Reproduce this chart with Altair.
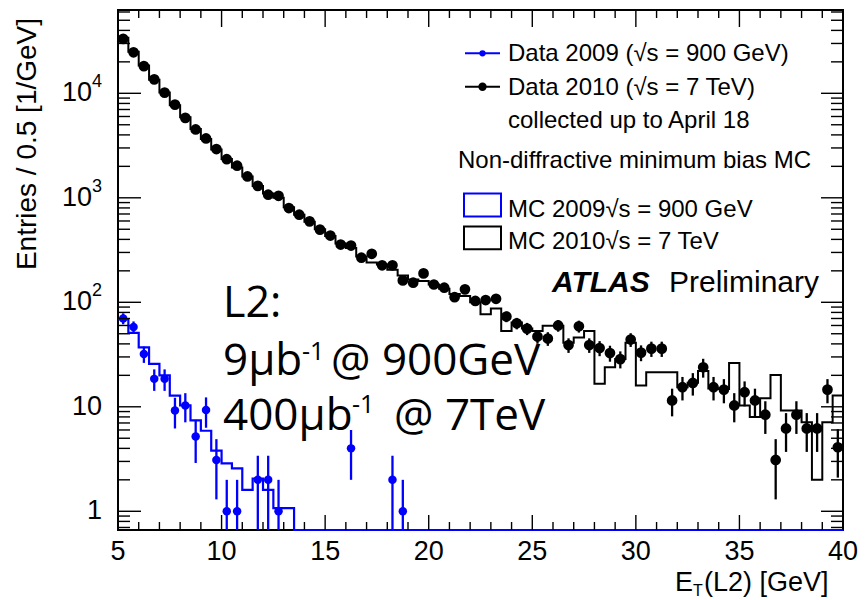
import altair as alt
import pandas as pd

# ---------------- binning ----------------
X_MIN, X_MAX, BIN_W, N_BINS = 5.0, 40.0, 0.5, 70
bin_centers = [X_MIN + BIN_W * (i + 0.5) for i in range(N_BINS)]
bin_edges = [X_MIN + BIN_W * i for i in range(N_BINS + 1)]

Y_LO, Y_HI = 0.662, 62700.0

# ---------------- Data 2010 (7 TeV), one value per bin 5.25 ... 39.75 ----------------
data2010 = [
    33200, 24700, 18200, 13600, 10150, 7800, 5820, 4510, 3700, 2930,
    2340, 2030, 1600, 1300, 1070, 1045, 798, 689, 595, 496,
    435, 357, 349, 267, 291, 226, 226, 162, 154, 189,
    148, 138, 112, 133, 103, 105, 108, 73, 63, 56,
    47, 45, 60, 39, 59, 39, 36.5, 32.7, 28.6, 44,
    33, 36, 36, 11.5, 15.4, 16.9, 23.9, 15.4, 14.6, 10.3,
    13.8, 11.5, 8.4, 3.1, 6.2, 8.4, 6.2, 6.2, 14.6, 4.1,
]
data2010_err = [
    182, 157, 135, 117, 101, 88, 76, 67, 61, 54,
    48, 45, 40, 36, 33, 32, 28, 26, 24, 22,
    21, 19, 19, 16, 17, 15, 15, 13, 12, 14,
    12, 12, 11, 12, 10, 10, 10, 8.5, 7.9, 7.5,
    6.9, 6.7, 7.7, 6.2, 7.7, 6.2, 6.0, 5.7, 5.3, 6.6,
    5.7, 6.0, 6.0, 3.4, 3.9, 4.1, 4.9, 3.9, 3.8, 3.2,
    3.7, 3.4, 2.9, 1.8, 2.5, 2.9, 2.5, 2.5, 3.8, 2.0,
]
# ---------------- MC 2010 (7 TeV) ----------------
mc2010 = [
    34000, 25000, 18500, 13500, 10200, 7700, 5900, 4550, 3650, 2900,
    2350, 1950, 1600, 1300, 1100, 1000, 810, 690, 590, 500,
    430, 365, 330, 275, 240, 230, 205, 180, 165, 160,
    148, 135, 120, 115, 100, 77, 87, 53, 64, 56,
    53, 59.5, 59.5, 41, 46, 53, 16.6, 23.9, 28.7, 41,
    16, 21.4, 21.4, 21.4, 15.4, 17, 22, 15, 14.8, 26.2,
    10.3, 8.0, 12.1, 20.2, 9.2, 9.2, 7.1, 2.0, 7.1, 12.8,
]
# ---------------- Data 2009 (900 GeV), non-empty bins ----------------
data2009_x = [5.25, 5.75, 6.25, 6.75, 7.25, 7.75, 8.25, 8.75, 9.25, 9.75,
              10.25, 10.75, 11.75, 12.25, 12.75, 16.25, 18.25, 18.75]
data2009 = [70, 58, 32, 18.5, 18.5, 9.2, 10.3, 5.2, 9.3, 3.1,
            1, 1, 2, 2, 1, 4, 2, 1]
data2009_err = [8.4, 7.6, 5.7, 4.3, 4.3, 3.0, 3.2, 2.3, 3.0, 1.8,
                1, 1, 1.4, 1.4, 1, 2, 1.4, 1]
# ---------------- MC 2009 (900 GeV) ----------------
mc2009 = [
    69, 51, 37, 25.7, 20, 12.8, 10.3, 7.4, 5.9, 3.8,
    2.87, 2.57, 1.6, 2.06, 1.6, 1.07, 1.07, 0, 0, 0,
    0, 0, 0, 0, 0, 0, 0, 0, 0, 0,
    0, 0, 0, 0, 0, 0, 0, 0, 0, 0,
    0, 0, 0, 0, 0, 0, 0, 0, 0, 0,
    0, 0, 0, 0, 0, 0, 0, 0, 0, 0,
    0, 0, 0, 0, 0, 0, 0, 0, 0, 0,
]

x_major = [5, 10, 15, 20, 25, 30, 35, 40]
x_minor = [v for v in range(5, 41) if v % 5 != 0]
y_major = [1, 10, 100, 1000, 10000]
y_minor = [k * 10 ** n for n in range(-1, 5) for k in range(2, 10)
           if Y_LO <= k * 10 ** n <= Y_HI]

BLUE = "#0000ff"
SANS = "Liberation Sans"
W, H = 725, 520

xs = alt.Scale(domain=[X_MIN, X_MAX], nice=False, zero=False)
ys = alt.Scale(type="log", domain=[Y_LO, Y_HI], nice=False)


def X(f):
    return alt.X(f, type="quantitative", scale=xs, axis=None)


def Y(f):
    return alt.Y(f, type="quantitative", scale=ys, axis=None)


DUMMY = pd.DataFrame({"_": [0]})


def txt(s, x, y, size, font=SANS, weight="normal", style="normal",
        align="left", baseline="alphabetic", color="black", angle=0):
    return alt.Chart(DUMMY).mark_text(
        align=align, baseline=baseline, font=font, fontSize=size,
        fontWeight=weight, fontStyle=style, color=color, angle=angle
    ).encode(x=alt.value(x), y=alt.value(y), text=alt.value(s))


layers = []

# MC histograms (step lines)
mc10_df = pd.DataFrame({"x": bin_edges, "y": mc2010 + [mc2010[-1]]})
mc09_vals = [max(v, Y_LO) for v in mc2009]
mc09_df = pd.DataFrame({"x": bin_edges, "y": mc09_vals + [mc09_vals[-1]]})
layers.append(alt.Chart(mc10_df).mark_line(interpolate="step-after", color="black",
                                           strokeWidth=2, clip=True)
              .encode(x=X("x"), y=Y("y")))
layers.append(alt.Chart(mc09_df).mark_line(interpolate="step-after", color=BLUE,
                                           strokeWidth=2.2, clip=False)
              .encode(x=X("x"), y=Y("y")))

# Data 2010
d10 = pd.DataFrame({
    "x": bin_centers, "y": data2010,
    "lo": [max(v - e, Y_LO) for v, e in zip(data2010, data2010_err)],
    "hi": [v + e for v, e in zip(data2010, data2010_err)],
})
layers.append(alt.Chart(d10).mark_rule(color="black", strokeWidth=2.3)
              .encode(x=X("x"), y=Y("lo"), y2="hi"))
layers.append(alt.Chart(d10).mark_circle(color="black", size=115, opacity=1)
              .encode(x=X("x"), y=Y("y")))

# Data 2009
d09 = pd.DataFrame({
    "x": data2009_x, "y": data2009,
    "lo": [max(v - e, Y_LO) for v, e in zip(data2009, data2009_err)],
    "hi": [v + e for v, e in zip(data2009, data2009_err)],
})
layers.append(alt.Chart(d09).mark_rule(color=BLUE, strokeWidth=2.3)
              .encode(x=X("x"), y=Y("lo"), y2="hi"))
layers.append(alt.Chart(d09).mark_circle(color=BLUE, size=72, opacity=1)
              .encode(x=X("x"), y=Y("y")))

# ---------------- ticks (inward, ROOT style) ----------------
xmaj_df = pd.DataFrame({"v": x_major, "lab": [str(v) for v in x_major]})
xmin_df = pd.DataFrame({"v": x_minor})
ymaj_df = pd.DataFrame({"v": y_major})
ymin_df = pd.DataFrame({"v": y_minor})
TK = dict(color="black", strokeWidth=1.4)
layers += [
    alt.Chart(xmaj_df).mark_rule(**TK).encode(x=X("v"), y=alt.value(H), y2=alt.value(H - 15)),
    alt.Chart(xmaj_df).mark_rule(**TK).encode(x=X("v"), y=alt.value(0), y2=alt.value(17)),
    alt.Chart(xmin_df).mark_rule(**TK).encode(x=X("v"), y=alt.value(H), y2=alt.value(H - 8)),
    alt.Chart(xmin_df).mark_rule(**TK).encode(x=X("v"), y=alt.value(0), y2=alt.value(8)),
    alt.Chart(ymaj_df).mark_rule(**TK).encode(y=Y("v"), x=alt.value(0), x2=alt.value(23)),
    alt.Chart(ymaj_df).mark_rule(**TK).encode(y=Y("v"), x=alt.value(W), x2=alt.value(W - 22)),
    alt.Chart(ymin_df).mark_rule(**TK).encode(y=Y("v"), x=alt.value(0), x2=alt.value(12)),
    alt.Chart(ymin_df).mark_rule(**TK).encode(y=Y("v"), x=alt.value(W), x2=alt.value(W - 12)),
]

# ---------------- tick labels ----------------
layers.append(alt.Chart(xmaj_df).mark_text(font=SANS, fontSize=27, align="center",
                                           baseline="alphabetic", color="black")
              .encode(x=X("v"), y=alt.value(550), text="lab:N"))
ylab_plain = pd.DataFrame({"v": [1, 10], "lab": ["1", "10"]})
ylab_pow = pd.DataFrame({"v": [100, 1000, 10000], "e": ["2", "3", "4"]})
layers.append(alt.Chart(ylab_plain).mark_text(font=SANS, fontSize=27, align="right",
                                              baseline="middle", color="black")
              .encode(y=Y("v"), x=alt.value(-16), text="lab:N"))
layers.append(alt.Chart(ylab_pow).mark_text(font=SANS, fontSize=27, align="right",
                                            baseline="middle", color="black")
              .encode(y=Y("v"), x=alt.value(-26), text=alt.value("10")))
layers.append(alt.Chart(ylab_pow).mark_text(font=SANS, fontSize=18, align="left",
                                            baseline="middle", dy=-11, color="black")
              .encode(y=Y("v"), x=alt.value(-26), text="e:N"))

# ---------------- axis titles ----------------
layers += [
    txt("Entries / 0.5 [1/GeV]", -90, 134, 28, align="center", baseline="middle", angle=270),
    txt("E", 557, 581, 27),
    txt("T", 575, 586, 16),
    txt("(L2) [GeV]", 586, 581, 27),
]

# ---------------- legend ----------------
LF = 24
layers += [
    alt.Chart(DUMMY).mark_rule(color=BLUE, strokeWidth=2).encode(
        x=alt.value(347), x2=alt.value(382), y=alt.value(43.3)),
    alt.Chart(DUMMY).mark_circle(color=BLUE, size=40, opacity=1).encode(
        x=alt.value(364.5), y=alt.value(43.3)),
    alt.Chart(DUMMY).mark_rule(color="black", strokeWidth=2).encode(
        x=alt.value(347), x2=alt.value(382), y=alt.value(76.7)),
    alt.Chart(DUMMY).mark_circle(color="black", size=70, opacity=1).encode(
        x=alt.value(364.5), y=alt.value(76.7)),
    alt.Chart(DUMMY).mark_rect(fillOpacity=0, stroke=BLUE, strokeWidth=2).encode(
        x=alt.value(346), x2=alt.value(383), y=alt.value(183.5), y2=alt.value(206.5)),
    alt.Chart(DUMMY).mark_rect(fillOpacity=0, stroke="black", strokeWidth=2).encode(
        x=alt.value(346), x2=alt.value(383), y=alt.value(216.5), y2=alt.value(239.3)),
    txt("Data 2009 (\u221as = 900 GeV)", 390, 51, LF),
    txt("Data 2010 (\u221as = 7 TeV)", 390, 84.5, LF),
    txt("collected up to April 18", 390, 118, LF),
    txt("Non-diffractive minimum bias MC", 340, 157.5, LF),
    txt("MC 2009\u221as = 900 GeV", 390, 206.5, LF),
    txt("MC 2010\u221as = 7 TeV", 390, 238.5, LF),
    txt("ATLAS", 434, 281.5, 30, weight="bold", style="italic"),
    txt("Preliminary", 551, 281.5, 30),
]

# ---------------- big annotation ----------------
ANN = "Open Sans"
layers += [
    txt("L2:", 105, 307, 43, font=ANN),
    txt("9\u03bcb", 105, 365, 44, font=ANN),
    txt("-1", 184, 350, 25, font=ANN),
    txt("@ 900GeV", 213, 365, 44, font=ANN),
    txt("400\u03bcb", 105, 420, 44, font=ANN),
    txt("-1", 234, 403, 25, font=ANN),
    txt("@ 7TeV", 276, 420, 44, font=ANN),
]

chart = alt.layer(*layers).properties(
    width=W, height=H,
    autosize=alt.AutoSizeParams(type="none"),
    padding={"left": 118, "top": 10, "right": 22, "bottom": 70},
    background="white",
).configure_view(stroke="black", strokeWidth=2)

chart.save("out.html", embed_options={"renderer": "svg", "actions": False})
